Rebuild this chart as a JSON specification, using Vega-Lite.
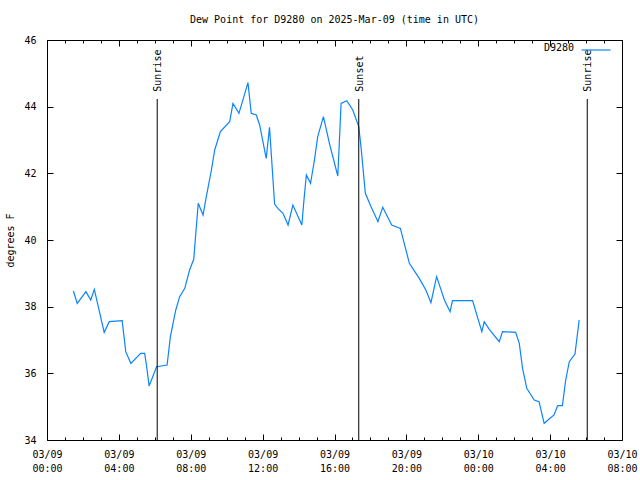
{
  "$schema": "https://vega.github.io/schema/vega-lite/v6.json",
  "width": 575,
  "height": 400,
  "autosize": "none",
  "padding": {"left": 47, "top": 40, "right": 18, "bottom": 40},
  "background": "white",
  "title": {"text": "Dew Point for D9280 on 2025-Mar-09 (time in UTC)", "font": "DejaVu Sans Mono", "fontSize": 10, "fontWeight": "normal", "color": "black", "offset": 10},
  "config": {
    "view": {"stroke": "black", "strokeWidth": 1},
    "axis": {"domain": false, "grid": false, "tickColor": "black", "tickWidth": 1, "labelFont": "DejaVu Sans Mono", "labelFontSize": 10, "labelColor": "black", "titleFont": "DejaVu Sans Mono", "titleFontSize": 10, "titleFontWeight": "normal", "titleColor": "black"},
    "text": {"font": "DejaVu Sans Mono", "fontSize": 10, "color": "black"}
  },
  "datasets": {
    "dew": [
      {"t": "2025-03-09T01:28:00Z", "v": 38.47},
      {"t": "2025-03-09T01:41:00Z", "v": 38.1},
      {"t": "2025-03-09T02:10:00Z", "v": 38.45},
      {"t": "2025-03-09T02:26:00Z", "v": 38.2},
      {"t": "2025-03-09T02:38:00Z", "v": 38.52},
      {"t": "2025-03-09T03:11:00Z", "v": 37.23},
      {"t": "2025-03-09T03:28:00Z", "v": 37.55},
      {"t": "2025-03-09T04:11:00Z", "v": 37.58},
      {"t": "2025-03-09T04:23:00Z", "v": 36.65},
      {"t": "2025-03-09T04:40:00Z", "v": 36.3},
      {"t": "2025-03-09T05:13:00Z", "v": 36.6},
      {"t": "2025-03-09T05:26:00Z", "v": 36.6},
      {"t": "2025-03-09T05:32:00Z", "v": 36.25},
      {"t": "2025-03-09T05:41:00Z", "v": 35.62},
      {"t": "2025-03-09T06:06:00Z", "v": 36.2},
      {"t": "2025-03-09T06:41:00Z", "v": 36.25},
      {"t": "2025-03-09T06:52:00Z", "v": 37.1},
      {"t": "2025-03-09T07:10:00Z", "v": 37.9},
      {"t": "2025-03-09T07:23:00Z", "v": 38.3},
      {"t": "2025-03-09T07:40:00Z", "v": 38.55},
      {"t": "2025-03-09T07:56:00Z", "v": 39.1},
      {"t": "2025-03-09T08:10:00Z", "v": 39.42},
      {"t": "2025-03-09T08:16:00Z", "v": 40.1},
      {"t": "2025-03-09T08:25:00Z", "v": 41.1},
      {"t": "2025-03-09T08:41:00Z", "v": 40.75},
      {"t": "2025-03-09T08:52:00Z", "v": 41.3},
      {"t": "2025-03-09T09:09:00Z", "v": 42.1},
      {"t": "2025-03-09T09:20:00Z", "v": 42.7},
      {"t": "2025-03-09T09:39:00Z", "v": 43.25},
      {"t": "2025-03-09T10:10:00Z", "v": 43.55},
      {"t": "2025-03-09T10:21:00Z", "v": 44.1},
      {"t": "2025-03-09T10:41:00Z", "v": 43.8},
      {"t": "2025-03-09T11:11:00Z", "v": 44.72},
      {"t": "2025-03-09T11:22:00Z", "v": 43.8},
      {"t": "2025-03-09T11:39:00Z", "v": 43.75},
      {"t": "2025-03-09T11:50:00Z", "v": 43.45},
      {"t": "2025-03-09T12:12:00Z", "v": 42.45},
      {"t": "2025-03-09T12:23:00Z", "v": 43.38},
      {"t": "2025-03-09T12:40:00Z", "v": 41.08},
      {"t": "2025-03-09T12:51:00Z", "v": 40.95},
      {"t": "2025-03-09T13:08:00Z", "v": 40.8},
      {"t": "2025-03-09T13:25:00Z", "v": 40.45},
      {"t": "2025-03-09T13:41:00Z", "v": 41.05},
      {"t": "2025-03-09T14:11:00Z", "v": 40.45},
      {"t": "2025-03-09T14:17:00Z", "v": 41.1},
      {"t": "2025-03-09T14:26:00Z", "v": 41.95},
      {"t": "2025-03-09T14:40:00Z", "v": 41.7},
      {"t": "2025-03-09T14:53:00Z", "v": 42.4},
      {"t": "2025-03-09T15:04:00Z", "v": 43.1},
      {"t": "2025-03-09T15:23:00Z", "v": 43.7},
      {"t": "2025-03-09T15:43:00Z", "v": 42.9},
      {"t": "2025-03-09T16:11:00Z", "v": 41.92},
      {"t": "2025-03-09T16:22:00Z", "v": 44.1},
      {"t": "2025-03-09T16:41:00Z", "v": 44.18},
      {"t": "2025-03-09T17:01:00Z", "v": 43.9},
      {"t": "2025-03-09T17:21:00Z", "v": 43.4},
      {"t": "2025-03-09T17:29:00Z", "v": 42.75},
      {"t": "2025-03-09T17:43:00Z", "v": 41.4},
      {"t": "2025-03-09T18:02:00Z", "v": 41.0},
      {"t": "2025-03-09T18:25:00Z", "v": 40.55},
      {"t": "2025-03-09T18:41:00Z", "v": 40.98},
      {"t": "2025-03-09T19:11:00Z", "v": 40.45},
      {"t": "2025-03-09T19:40:00Z", "v": 40.35},
      {"t": "2025-03-09T20:10:00Z", "v": 39.3},
      {"t": "2025-03-09T20:43:00Z", "v": 38.85},
      {"t": "2025-03-09T21:05:00Z", "v": 38.5},
      {"t": "2025-03-09T21:22:00Z", "v": 38.12},
      {"t": "2025-03-09T21:41:00Z", "v": 38.9},
      {"t": "2025-03-09T22:07:00Z", "v": 38.2},
      {"t": "2025-03-09T22:26:00Z", "v": 37.85},
      {"t": "2025-03-09T22:34:00Z", "v": 38.18},
      {"t": "2025-03-09T23:41:00Z", "v": 38.18},
      {"t": "2025-03-10T00:12:00Z", "v": 37.25},
      {"t": "2025-03-10T00:20:00Z", "v": 37.55},
      {"t": "2025-03-10T00:37:00Z", "v": 37.32},
      {"t": "2025-03-10T01:10:00Z", "v": 36.95},
      {"t": "2025-03-10T01:21:00Z", "v": 37.25},
      {"t": "2025-03-10T02:05:00Z", "v": 37.23},
      {"t": "2025-03-10T02:17:00Z", "v": 36.9},
      {"t": "2025-03-10T02:28:00Z", "v": 36.15},
      {"t": "2025-03-10T02:42:00Z", "v": 35.55},
      {"t": "2025-03-10T03:07:00Z", "v": 35.2},
      {"t": "2025-03-10T03:23:00Z", "v": 35.15},
      {"t": "2025-03-10T03:40:00Z", "v": 34.5},
      {"t": "2025-03-10T04:13:00Z", "v": 34.75},
      {"t": "2025-03-10T04:25:00Z", "v": 35.03},
      {"t": "2025-03-10T04:41:00Z", "v": 35.03},
      {"t": "2025-03-10T04:52:00Z", "v": 35.8},
      {"t": "2025-03-10T05:04:00Z", "v": 36.35},
      {"t": "2025-03-10T05:23:00Z", "v": 36.58},
      {"t": "2025-03-10T05:37:00Z", "v": 37.6}
    ],
    "sun": [
      {"t": "2025-03-09T06:08:00Z", "label": "Sunrise"},
      {"t": "2025-03-09T17:21:00Z", "label": "Sunset"},
      {"t": "2025-03-10T06:04:00Z", "label": "Sunrise"}
    ]
  },
  "resolve": {"axis": {"x": "independent", "y": "independent"}},
  "layer": [
    {
      "data": {"name": "dew"},
      "mark": {"type": "line", "color": "#0a84ff", "strokeWidth": 1.2, "interpolate": "linear"},
      "encoding": {
        "x": {
          "field": "t", "type": "temporal",
          "scale": {"type": "utc", "domain": [{"year": 2025, "month": 3, "date": 9, "hours": 0, "utc": true}, {"year": 2025, "month": 3, "date": 10, "hours": 8, "utc": true}]},
          "axis": {
            "orient": "bottom", "title": null, "tickSize": -6, "labelPadding": 15, "labelLineHeight": 14, "labelFlush": false, "labelOverlap": false, "labelAlign": "center", "labelBaseline": "top",
            "values": [
              {"year": 2025, "month": 3, "date": 9, "hours": 0, "utc": true},
              {"year": 2025, "month": 3, "date": 9, "hours": 4, "utc": true},
              {"year": 2025, "month": 3, "date": 9, "hours": 8, "utc": true},
              {"year": 2025, "month": 3, "date": 9, "hours": 12, "utc": true},
              {"year": 2025, "month": 3, "date": 9, "hours": 16, "utc": true},
              {"year": 2025, "month": 3, "date": 9, "hours": 20, "utc": true},
              {"year": 2025, "month": 3, "date": 10, "hours": 0, "utc": true},
              {"year": 2025, "month": 3, "date": 10, "hours": 4, "utc": true},
              {"year": 2025, "month": 3, "date": 10, "hours": 8, "utc": true}
            ],
            "labelExpr": "[utcFormat(datum.value, '%m/%d'), utcFormat(datum.value, '%H:%M')]"
          }
        },
        "y": {
          "field": "v", "type": "quantitative",
          "scale": {"domain": [34, 46], "nice": false, "zero": false},
          "axis": {"orient": "left", "values": [34, 36, 38, 40, 42, 44, 46], "tickSize": -6, "labelPadding": 17, "title": "degrees F", "titlePadding": 8}
        }
      }
    },
    {
      "data": {"name": "sun"},
      "mark": {"type": "rule", "color": "black", "strokeWidth": 1},
      "encoding": {
        "x": {
          "field": "t", "type": "temporal",
          "axis": {
            "orient": "top", "title": null, "labels": false, "tickSize": -6,
            "values": [
              {"year": 2025, "month": 3, "date": 9, "hours": 0, "utc": true},
              {"year": 2025, "month": 3, "date": 9, "hours": 4, "utc": true},
              {"year": 2025, "month": 3, "date": 9, "hours": 8, "utc": true},
              {"year": 2025, "month": 3, "date": 9, "hours": 12, "utc": true},
              {"year": 2025, "month": 3, "date": 9, "hours": 16, "utc": true},
              {"year": 2025, "month": 3, "date": 9, "hours": 20, "utc": true},
              {"year": 2025, "month": 3, "date": 10, "hours": 0, "utc": true},
              {"year": 2025, "month": 3, "date": 10, "hours": 4, "utc": true},
              {"year": 2025, "month": 3, "date": 10, "hours": 8, "utc": true}
            ]
          }
        },
        "y": {"datum": 44.23, "type": "quantitative", "axis": {"orient": "right", "title": null, "labels": false, "tickSize": -6, "values": [34, 36, 38, 40, 42, 44, 46]}},
        "y2": {"datum": 34}
      }
    },
    {
      "data": {"name": "sun"},
      "mark": {"type": "text", "angle": 270, "align": "left", "baseline": "middle", "dy": 1},
      "encoding": {
        "x": {
          "field": "t", "type": "temporal",
          "axis": {
            "orient": "bottom", "title": null, "labels": false, "tickSize": -3,
            "values": [
              {"year": 2025, "month": 3, "date": 9, "hours": 1, "utc": true},
              {"year": 2025, "month": 3, "date": 9, "hours": 2, "utc": true},
              {"year": 2025, "month": 3, "date": 9, "hours": 3, "utc": true},
              {"year": 2025, "month": 3, "date": 9, "hours": 5, "utc": true},
              {"year": 2025, "month": 3, "date": 9, "hours": 6, "utc": true},
              {"year": 2025, "month": 3, "date": 9, "hours": 7, "utc": true},
              {"year": 2025, "month": 3, "date": 9, "hours": 9, "utc": true},
              {"year": 2025, "month": 3, "date": 9, "hours": 10, "utc": true},
              {"year": 2025, "month": 3, "date": 9, "hours": 11, "utc": true},
              {"year": 2025, "month": 3, "date": 9, "hours": 13, "utc": true},
              {"year": 2025, "month": 3, "date": 9, "hours": 14, "utc": true},
              {"year": 2025, "month": 3, "date": 9, "hours": 15, "utc": true},
              {"year": 2025, "month": 3, "date": 9, "hours": 17, "utc": true},
              {"year": 2025, "month": 3, "date": 9, "hours": 18, "utc": true},
              {"year": 2025, "month": 3, "date": 9, "hours": 19, "utc": true},
              {"year": 2025, "month": 3, "date": 9, "hours": 21, "utc": true},
              {"year": 2025, "month": 3, "date": 9, "hours": 22, "utc": true},
              {"year": 2025, "month": 3, "date": 9, "hours": 23, "utc": true},
              {"year": 2025, "month": 3, "date": 10, "hours": 1, "utc": true},
              {"year": 2025, "month": 3, "date": 10, "hours": 2, "utc": true},
              {"year": 2025, "month": 3, "date": 10, "hours": 3, "utc": true},
              {"year": 2025, "month": 3, "date": 10, "hours": 5, "utc": true},
              {"year": 2025, "month": 3, "date": 10, "hours": 6, "utc": true},
              {"year": 2025, "month": 3, "date": 10, "hours": 7, "utc": true}
            ]
          }
        },
        "y": {"datum": 44.45, "type": "quantitative", "axis": null},
        "text": {"field": "label"}
      }
    },
    {
      "data": {"values": [{"name": "D9280"}]},
      "mark": {"type": "text", "align": "right", "baseline": "middle"},
      "encoding": {
        "x": {
          "datum": {"year": 2025, "month": 3, "date": 10, "hours": 5, "minutes": 20, "utc": true}, "type": "temporal",
          "axis": {
            "orient": "top", "title": null, "labels": false, "tickSize": -3,
            "values": [
              {"year": 2025, "month": 3, "date": 9, "hours": 1, "utc": true},
              {"year": 2025, "month": 3, "date": 9, "hours": 2, "utc": true},
              {"year": 2025, "month": 3, "date": 9, "hours": 3, "utc": true},
              {"year": 2025, "month": 3, "date": 9, "hours": 5, "utc": true},
              {"year": 2025, "month": 3, "date": 9, "hours": 6, "utc": true},
              {"year": 2025, "month": 3, "date": 9, "hours": 7, "utc": true},
              {"year": 2025, "month": 3, "date": 9, "hours": 9, "utc": true},
              {"year": 2025, "month": 3, "date": 9, "hours": 10, "utc": true},
              {"year": 2025, "month": 3, "date": 9, "hours": 11, "utc": true},
              {"year": 2025, "month": 3, "date": 9, "hours": 13, "utc": true},
              {"year": 2025, "month": 3, "date": 9, "hours": 14, "utc": true},
              {"year": 2025, "month": 3, "date": 9, "hours": 15, "utc": true},
              {"year": 2025, "month": 3, "date": 9, "hours": 17, "utc": true},
              {"year": 2025, "month": 3, "date": 9, "hours": 18, "utc": true},
              {"year": 2025, "month": 3, "date": 9, "hours": 19, "utc": true},
              {"year": 2025, "month": 3, "date": 9, "hours": 21, "utc": true},
              {"year": 2025, "month": 3, "date": 9, "hours": 22, "utc": true},
              {"year": 2025, "month": 3, "date": 9, "hours": 23, "utc": true},
              {"year": 2025, "month": 3, "date": 10, "hours": 1, "utc": true},
              {"year": 2025, "month": 3, "date": 10, "hours": 2, "utc": true},
              {"year": 2025, "month": 3, "date": 10, "hours": 3, "utc": true},
              {"year": 2025, "month": 3, "date": 10, "hours": 5, "utc": true},
              {"year": 2025, "month": 3, "date": 10, "hours": 6, "utc": true},
              {"year": 2025, "month": 3, "date": 10, "hours": 7, "utc": true}
            ]
          }
        },
        "y": {"datum": 45.76, "type": "quantitative", "axis": null},
        "text": {"field": "name"}
      }
    },
    {
      "data": {"values": [{"name": "D9280"}]},
      "mark": {"type": "rule", "color": "#0a84ff", "strokeWidth": 1.2},
      "encoding": {
        "x": {"datum": {"year": 2025, "month": 3, "date": 10, "hours": 5, "minutes": 45, "utc": true}, "type": "temporal", "axis": null},
        "x2": {"datum": {"year": 2025, "month": 3, "date": 10, "hours": 7, "minutes": 22, "utc": true}},
        "y": {"datum": 45.7, "type": "quantitative", "axis": null}
      }
    }
  ]
}
